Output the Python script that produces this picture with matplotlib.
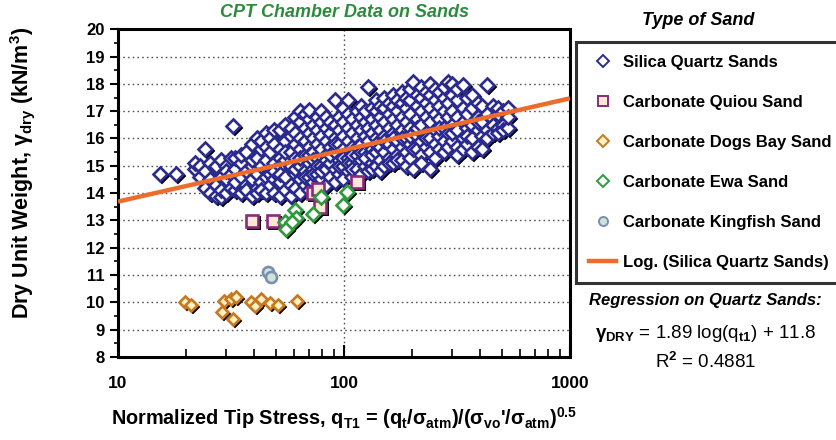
import matplotlib
matplotlib.use("Agg")
import matplotlib.pyplot as plt
import matplotlib.transforms as mtransforms
from matplotlib.lines import Line2D
import numpy as np

plt.rcParams['font.family'] = ['Liberation Sans', 'DejaVu Sans']
plt.rcParams['mathtext.fontset'] = 'custom'
plt.rcParams['mathtext.rm'] = 'Liberation Sans:bold'
plt.rcParams['mathtext.it'] = 'Liberation Sans:bold'
plt.rcParams['mathtext.bf'] = 'Liberation Sans:bold'

# Silica quartz sands: normalized tip stress -> dry unit weights
silica_cols = [
    (15.3, [14.7]), (18.1, [14.7]),
    (22, [14.9, 15.1]), (23, [14.6, 15.0]),
    (24.3, [15.6, 14.2, 14.8]), (25.5, [14.5, 15.1, 14.0]),
    (27, [14.3, 14.9, 15.0, 13.9]), (28.5, [13.85, 14.6, 15.2, 14.1]),
    (30, [14.0, 14.5, 15.0, 14.8]), (31.5, [14.2, 15.3, 14.7]),
    (32.3, [16.45]), (33, [14.1, 14.9, 15.3, 14.4]),
    (35, [14.0, 14.6, 15.1, 15.4]), (37, [14.3, 14.8, 15.5, 14.1]),
    (39, [13.9, 14.5, 15.0, 15.8, 15.2]), (41, [14.2, 14.7, 15.3, 16.0, 14.0]),
    (43, [14.4, 15.0, 15.6, 15.9, 14.1]), (45, [14.0, 14.6, 15.2, 15.7, 16.2]),
    (47, [14.3, 14.9, 15.5, 16.0, 14.7]), (49, [14.0, 14.5, 15.1, 15.8, 16.3, 14.8]),
    (52, [13.9, 14.4, 15.0, 15.6, 16.3, 14.7, 15.3]),
    (55, [14.1, 14.6, 15.2, 15.9, 16.5, 15.5]),
    (58, [13.9, 14.3, 14.9, 15.5, 16.1, 16.4, 15.0]),
    (61, [14.2, 14.7, 15.3, 15.8, 16.2, 16.8, 14.9]),
    (64, [14.0, 14.5, 15.0, 15.6, 16.0, 16.6, 15.3, 17.0]),
    (67, [14.3, 14.8, 15.4, 15.9, 16.4, 16.9, 14.6]),
    (70, [14.1, 14.6, 15.1, 15.7, 16.2, 16.7, 17.05, 15.4]),
    (73, [14.4, 14.9, 15.5, 16.0, 16.5, 15.2, 14.7]),
    (76, [14.2, 14.7, 15.3, 15.8, 16.3, 16.8, 15.0]),
    (79, [14.5, 15.0, 15.6, 16.1, 16.6, 17.0, 14.8]),
    (83, [14.3, 14.9, 15.4, 15.9, 16.4, 16.8, 15.2]),
    (87, [14.6, 15.1, 15.7, 16.2, 16.6, 15.4]),
    (91, [14.4, 14.9, 15.5, 16.0, 16.5, 17.4, 15.8]),
    (95, [14.7, 15.2, 15.8, 16.3, 16.8, 15.0]),
    (99, [14.5, 15.0, 15.6, 16.1, 16.6, 17.1, 15.3]),
    (104, [14.8, 15.3, 15.9, 16.4, 16.9, 17.4, 15.1]),
    (109, [14.6, 15.1, 15.7, 16.2, 16.7, 15.4, 14.9]),
    (114, [14.9, 15.4, 16.0, 16.5, 17.0, 15.7]),
    (119, [14.7, 15.2, 15.8, 16.3, 16.8, 17.2, 15.5]),
    (124, [15.0, 15.5, 16.1, 16.6, 17.0, 15.3]),
    (128, [17.9, 14.8, 15.9, 16.4]),
    (133, [15.1, 15.6, 16.2, 16.7, 17.1, 14.9, 15.4]),
    (139, [15.0, 15.5, 16.0, 16.5, 17.0, 17.4, 15.8]),
    (145, [15.2, 15.7, 16.3, 16.8, 17.2, 14.8]),
    (151, [15.0, 15.5, 16.1, 16.6, 17.1, 17.5, 15.9]),
    (158, [15.3, 15.8, 16.4, 16.9, 17.3, 15.1]),
    (165, [15.1, 15.6, 16.2, 16.7, 17.2, 17.6, 16.0]),
    (172, [15.4, 15.9, 16.5, 17.0, 17.4, 15.2]),
    (180, [15.2, 15.7, 16.3, 16.8, 17.3, 17.7, 16.0]),
    (188, [15.5, 16.0, 16.6, 17.1, 17.5, 15.0]),
    (196, [15.3, 15.8, 16.4, 16.9, 17.4, 17.8, 16.1]),
    (202, [18.05, 14.9, 15.6]),
    (210, [15.6, 16.1, 16.7, 17.2, 17.6, 16.4]),
    (220, [15.4, 15.9, 16.5, 17.0, 17.5, 17.9, 15.1]),
    (230, [15.7, 16.2, 16.8, 17.3, 17.7, 16.0]),
    (240, [14.9, 15.5, 16.0, 16.6, 17.1, 17.6, 18.0]),
    (252, [15.8, 16.3, 16.9, 17.4, 17.8, 15.3]),
    (264, [15.6, 16.1, 16.7, 17.2, 17.7, 16.4]),
    (276, [15.9, 16.4, 17.0, 17.5, 17.9, 15.5]),
    (288, [18.05, 15.7, 16.2, 16.8, 17.3]),
    (300, [15.9, 16.5, 17.0, 17.6, 18.0, 16.2]),
    (315, [15.7, 16.3, 16.8, 17.4, 17.8, 15.4]),
    (336, [17.95, 16.0, 16.6, 17.1, 15.6]),
    (350, [15.8, 16.4, 16.9, 17.5, 16.1]),
    (370, [16.0, 16.5, 17.1, 17.6, 15.5]),
    (390, [15.7, 16.3, 16.8, 17.3, 16.6]),
    (410, [16.1, 16.6, 17.2, 15.6]),
    (430, [17.95, 16.3, 16.9, 16.0]),
    (455, [16.2, 16.7, 17.2, 16.5]),
    (480, [16.4, 16.9, 17.1, 16.2]),
    (505, [16.5, 17.0, 16.3]),
    (532, [17.1, 16.4, 16.8]),
]
silica_q = [q for q, ys in silica_cols for _ in ys]
silica_g = [g for _, ys in silica_cols for g in ys]

quiou_q = [39.2, 48.5, 73, 77, 78, 114]
quiou_g = [12.97, 12.97, 14.0, 14.15, 13.5, 14.4]

dogs_q = [19.8, 21, 28.9, 29.5, 31.6, 33.2, 32.3, 38.7, 40.4, 42.9, 46.9, 51, 62]
dogs_g = [10.0, 9.9, 9.65, 10.05, 10.12, 10.2, 9.39, 10.0, 9.86, 10.12, 9.97, 9.9, 10.05]

ewa_q = [54.8, 55.5, 60.5, 61.5, 59, 73, 79.5, 99, 103]
ewa_g = [12.95, 12.7, 13.4, 13.1, 12.95, 13.25, 13.85, 13.55, 14.05]

king_q = [46.1, 47.4]
king_g = [11.1, 10.93]

# regression on quartz sands: gamma = a*log(q) + b
reg_a = 1.89
reg_b = 11.8

fig = plt.figure(figsize=(8.37, 4.4), dpi=100)
ax = fig.add_axes([0.141, 0.1886, 0.540, 0.745])
ax.set_xscale('log')
ax.set_xlim(10, 1000)
ax.set_ylim(8, 20)

shadow = mtransforms.offset_copy(ax.transData, fig=fig, x=2, y=-2, units='dots')

series = [
    (silica_q, silica_g, 'D', 'white', '#2b2b8f', 7.5, 'Silica Quartz Sands'),
    (quiou_q, quiou_g, 's', '#fde8d8', '#8b2a7a', 8, 'Carbonate Quiou Sand'),
    (dogs_q, dogs_g, 'D', '#fff1c8', '#c8781e', 6, 'Carbonate Dogs Bay Sand'),
    (ewa_q, ewa_g, 'D', 'white', '#2e9a3e', 6.8, 'Carbonate Ewa Sand'),
    (king_q, king_g, 'o', '#cfe3da', '#7a8fb0', 8, 'Carbonate Kingfish Sand'),
]

handles = []
for q, g, mk, fc, ec, ms, lab in series:
    if mk != 'o':
        ax.plot(q, g, ls='none', marker=mk, ms=ms, mfc='black', mec='black',
                mew=1.4, transform=shadow, zorder=3)
    ax.plot(q, g, ls='none', marker=mk, ms=ms, mfc=fc, mec=ec, mew=1.9, zorder=4)
    handles.append(Line2D([], [], ls='none', marker=mk, ms=6.5, mfc=fc, mec=ec,
                          mew=1.4, label=lab))

xl = np.array([10, 1000])
ax.plot(xl, reg_a * np.log10(xl) + reg_b, color='#ee6c2b', lw=3.2, zorder=5,
        solid_capstyle='butt')
handles.append(Line2D([], [], color='#ee6c2b', lw=3.2,
                      label='Log. (Silica Quartz Sands)'))

ax.set_yticks(range(8, 21))
ax.set_yticks(np.arange(8, 20.01, 0.5), minor=True)
ax.yaxis.grid(True, which='major', ls=(0, (1.2, 2.2)), color='#555555', lw=1)
ax.xaxis.grid(True, which='major', ls=(0, (1.2, 2.2)), color='#555555', lw=1)
ax.set_axisbelow(True)
ax.tick_params(axis='y', which='major', direction='out', length=6, width=1.5,
               labelsize=12)
ax.tick_params(axis='y', which='minor', direction='out', length=3, width=1.2)
ax.tick_params(axis='x', which='major', direction='in', length=9, width=1.5,
               labelsize=12.5, pad=14)
ax.tick_params(axis='x', which='minor', direction='in', length=6, width=1.2)
ax.set_xticks([10, 100, 1000])
ax.set_xticklabels(['10', '100', '1000'])
for t in ax.get_xticklabels() + ax.get_yticklabels():
    t.set_fontweight('bold')
for s in ax.spines.values():
    s.set_linewidth(2.2)

ax.set_xlabel(r"Normalized Tip Stress, q$_{T1}$ = (q$_{t}$/$\sigma_{atm}$)/($\sigma_{vo}$'/$\sigma_{atm}$)$^{0.5}$",
              fontsize=14.3, fontweight='bold', labelpad=10)
fig.text(0.027, 0.607, r"Dry Unit Weight, $\gamma_{dry}$ (kN/m$^{3}$)", rotation=90,
         ha='center', va='center', fontsize=15.5, fontweight='bold')

fig.text(0.412, 0.972, 'CPT Chamber Data on Sands', ha='center', va='center',
         fontsize=13, fontweight='bold', style='italic', color='#2e8b3e')

fig.text(0.834, 0.953, 'Type of Sand', ha='center', va='center', fontsize=13,
         fontweight='bold', style='italic')

leg = fig.legend(handles=handles, loc='upper left', bbox_to_anchor=(0.688, 0.905),
                 frameon=True, fancybox=False, edgecolor='black', fontsize=12,
                 labelspacing=1.5, handlelength=1.6, handletextpad=0.4,
                 borderpad=0.8, borderaxespad=0)
leg.get_frame().set_linewidth(2.2)
for t in leg.get_texts():
    t.set_fontweight('bold')

fig.text(0.843, 0.318, 'Regression on Quartz Sands:', ha='center', va='center',
         fontsize=12, fontweight='bold', style='italic')
fig.text(0.843, 0.243, r"$\gamma_{DRY}$ = 1.89 log(q$_{t1}$) + 11.8", ha='center',
         va='center', fontsize=13.5)
fig.text(0.843, 0.178, r"R$^{2}$ = 0.4881", ha='center', va='center', fontsize=13.5)

fig.savefig('out.png', dpi=100)
